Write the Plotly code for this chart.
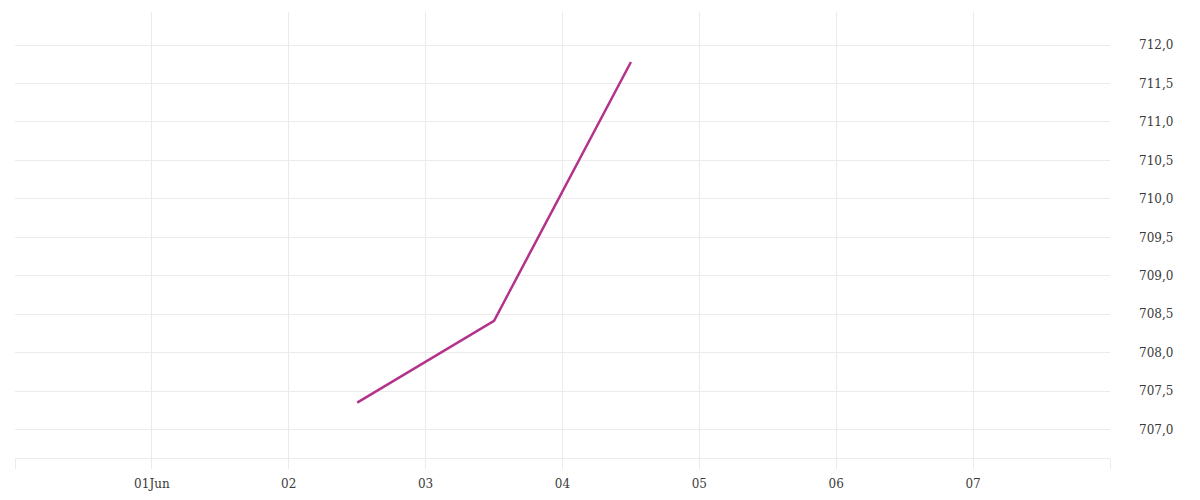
import plotly.graph_objects as go

dates = ["2023-06-02 12:00", "2023-06-03 12:00", "2023-06-04 12:00"]
values = [707.35, 708.415, 711.78]

tick_dates = ["2023-05-31", "2023-06-01", "2023-06-02", "2023-06-03", "2023-06-04",
              "2023-06-05", "2023-06-06", "2023-06-07", "2023-06-08"]
tick_labels = ["", "01Jun", "02", "03", "04", "05", "06", "07", ""]

y_ticks = [707.0, 707.5, 708.0, 708.5, 709.0, 709.5, 710.0, 710.5, 711.0, 711.5, 712.0]
y_labels = [f"{v:.1f}".replace(".", ",") for v in y_ticks]

grid = "#ebebeb"
font = dict(family="DejaVu Serif", size=12, color="#3a3a3a")

fig = go.Figure()
fig.add_trace(go.Scatter(
    x=dates, y=values, mode="lines",
    line=dict(color="#b3338b", width=2.5),
    hoverinfo="skip", showlegend=False,
))

fig.update_layout(
    width=1200, height=500,
    margin=dict(l=7, r=98, t=4, b=50),
    paper_bgcolor="white", plot_bgcolor="white",
    font=font,
    xaxis=dict(
        type="date",
        range=["2023-05-31", "2023-06-08"],
        tickmode="array", tickvals=tick_dates, ticktext=tick_labels,
        showgrid=True, gridcolor=grid, gridwidth=1,
        ticks="outside", ticklen=10, tickcolor=grid, tickwidth=1,
        showline=True, linecolor=grid, linewidth=1,
        zeroline=False, tickfont=font, ticklabelstandoff=5,
    ),
    yaxis=dict(
        side="right",
        range=[706.63, 712.43],
        tickmode="array", tickvals=y_ticks, ticktext=y_labels,
        showgrid=True, gridcolor=grid, gridwidth=1,
        ticks="", showline=False, zeroline=False,
        ticklabelstandoff=28, tickfont=font,
    ),
)

fig.write_html("out.html")
